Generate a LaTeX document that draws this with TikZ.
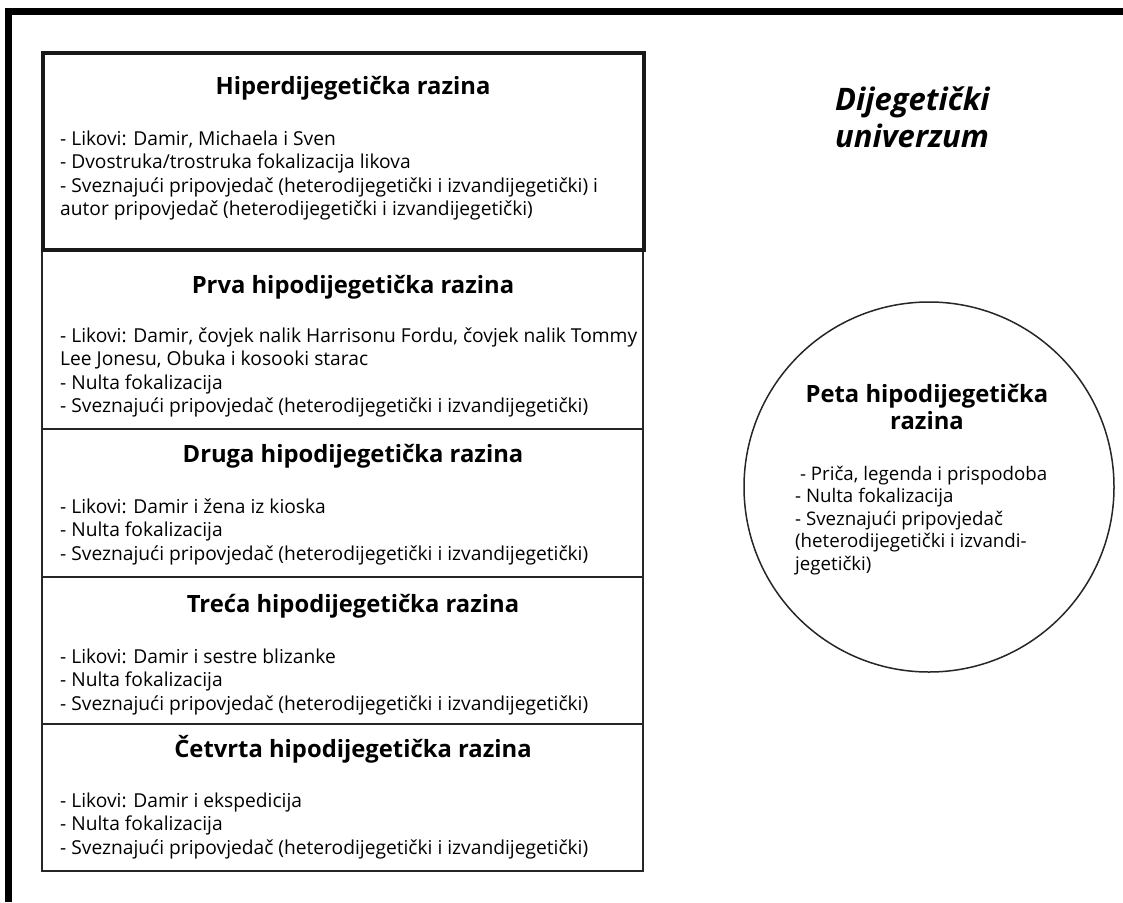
\documentclass[tikz,border=0pt]{standalone}
\usepackage{fontspec}
\setmainfont{Open Sans}
\begin{document}
\begin{tikzpicture}[x=1pt,y=-1pt,
  lvl/.style={draw=black!85, line width=1.6pt, rectangle, anchor=north west, inner sep=0pt},
  ttl/.style={font=\fontsize{23.8}{27}\selectfont\bfseries, anchor=base, inner sep=0pt},
  bl/.style={font=\fontsize{19.2}{23.5}\selectfont, anchor=base west, inner sep=0pt},
  cbl/.style={font=\fontsize{18.7}{23}\selectfont, anchor=base west, inner sep=0pt},
  uni/.style={font=\fontsize{31}{37}\selectfont\bfseries\itshape, anchor=base west, inner sep=0pt},
]
\useasboundingbox (0,0) rectangle (1123,902);
\fill[white] (0,0) rectangle (1123,902);
% outer frame (only top and left visible)
\draw[line width=6.5pt] (8.5,902) -- (8.5,11.5) -- (1123,11.5);

% level boxes
\node[lvl, minimum width=601, minimum height=180] (b2) at (41,248) {};
\node[lvl, minimum width=601, minimum height=148] (b3) at (41,428) {};
\node[lvl, minimum width=601, minimum height=147] (b4) at (41,576) {};
\node[lvl, minimum width=601, minimum height=147] (b5) at (41,723) {};
\node[lvl, line width=3.5pt, draw=black!90, minimum width=601, minimum height=197] (b1) at (41,51) {};

% box 1
\node[ttl] (t1) at (353,94) {Hiperdijegetička razina};
\foreach \t [count=\i] in {{- Likovi: Damir, Michaela i Sven},{- Dvostruka/trostruka fokalizacija likova},{- Sveznajući pripovjedač (heterodijegetički i izvandijegetički) i},{autor pripovjedač (heterodijegetički i izvandijegetički)}}
  \node[bl] (l1-\i) at (60,{145+23.5*(\i-1)}) {\t};

% box 2
\node[ttl] (t2) at (353,293) {Prva hipodijegetička razina};
\foreach \t [count=\i] in {{- Likovi: Damir, čovjek nalik Harrisonu Fordu, čovjek nalik Tommy},{Lee Jonesu, Obuka i kosooki starac},{- Nulta fokalizacija},{- Sveznajući pripovjedač (heterodijegetički i izvandijegetički)}}
  \node[bl] (l2-\i) at (60,{342+23.5*(\i-1)}) {\t};

% box 3
\node[ttl] (t3) at (353,462) {Druga hipodijegetička razina};
\foreach \t [count=\i] in {{- Likovi: Damir i žena iz kioska},{- Nulta fokalizacija},{- Sveznajući pripovjedač (heterodijegetički i izvandijegetički)}}
  \node[bl] (l3-\i) at (60,{513+23.5*(\i-1)}) {\t};

% box 4
\node[ttl] (t4) at (353,612) {Treća hipodijegetička razina};
\foreach \t [count=\i] in {{- Likovi: Damir i sestre blizanke},{- Nulta fokalizacija},{- Sveznajući pripovjedač (heterodijegetički i izvandijegetički)}}
  \node[bl] (l4-\i) at (60,{663+23.5*(\i-1)}) {\t};

% box 5
\node[ttl] (t5) at (353,757) {Četvrta hipodijegetička razina};
\foreach \t [count=\i] in {{- Likovi: Damir i ekspedicija},{- Nulta fokalizacija},{- Sveznajući pripovjedač (heterodijegetički i izvandijegetički)}}
  \node[bl] (l5-\i) at (60,{807+23.5*(\i-1)}) {\t};

% circle
\node[circle, draw=black!85, line width=1.5pt, minimum size=370, inner sep=0pt] (c) at (929,487) {};
\node[ttl] (ct1) at (927,402) {Peta hipodijegetička};
\node[ttl] (ct2) at (927,429) {razina};
\foreach \t [count=\i] in {{\ - Priča, legenda i prispodoba},{- Nulta fokalizacija},{- Sveznajući pripovjedač},{(heterodijegetički i izvandi-},{jegetički)}}
  \node[cbl] (cl-\i) at (795,{480+22.5*(\i-1)}) {\t};

% universe label
\node[uni] (u1) at (835,110) {Dijegetički};
\node[uni] (u2) at (835,147) {univerzum};
\end{tikzpicture}
\end{document}
